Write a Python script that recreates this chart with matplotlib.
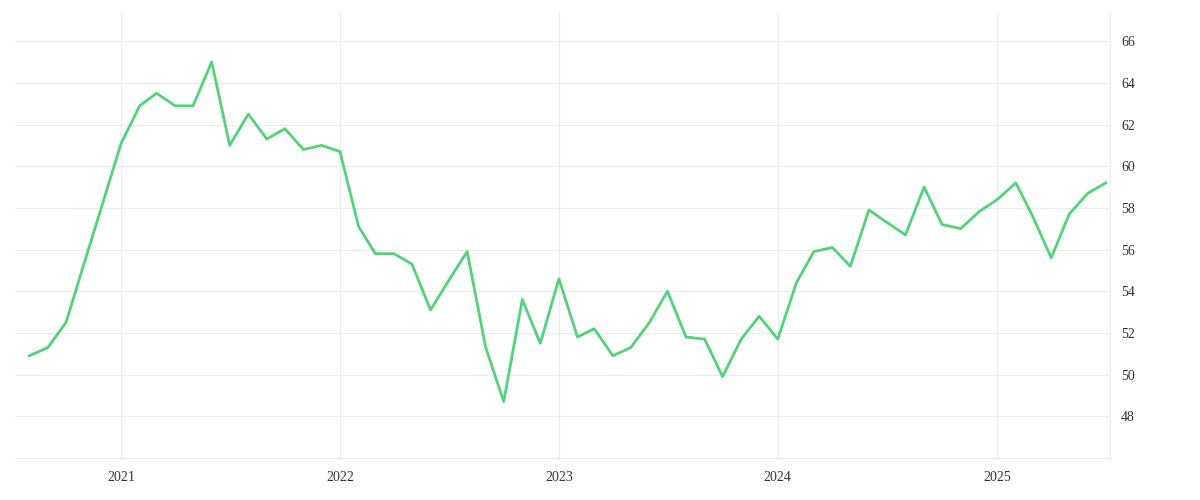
import matplotlib.pyplot as plt
import matplotlib.dates as mdates
import pandas as pd

plt.rcParams['font.family'] = ['Liberation Serif', 'DejaVu Serif']

# monthly values, Aug 2020 .. Jul 2025
months = pd.date_range('2020-08-01', '2025-07-01', freq='MS')
values = [50.9, 51.3, 52.5, 55.4, 58.2, 61.1, 62.9, 63.5, 62.9, 62.9, 65.0, 61.0,
          62.5, 61.3, 61.8, 60.8, 61.0, 60.7, 57.1, 55.8, 55.8, 55.3, 53.1, 54.5,
          55.9, 51.3, 48.7, 53.6, 51.5, 54.6, 51.8, 52.2, 50.9, 51.3, 52.5, 54.0,
          51.8, 51.7, 49.9, 51.7, 52.8, 51.7, 54.4, 55.9, 56.1, 55.2, 57.9, 57.3,
          56.7, 59.0, 57.2, 57.0, 57.8, 58.4, 59.2, 57.6, 55.6, 57.7, 58.7, 59.2]
y_ticks = [48, 50, 52, 54, 56, 58, 60, 62, 64, 66]

fig = plt.figure(figsize=(12, 5), dpi=100)
ax = fig.add_axes([0.0125, 0.08, 0.9125, 0.896])
ax.plot(months, values, color='#52d27a', lw=2)

ax.set_ylim(45.9, 67.4)
ax.set_xlim(pd.Timestamp('2020-07-08'), pd.Timestamp('2025-07-08'))
ax.set_yticks(y_ticks)
ax.set_yticks([46], minor=True)
ax.yaxis.tick_right()
ax.xaxis.set_major_locator(mdates.YearLocator())
ax.xaxis.set_major_formatter(mdates.DateFormatter('%Y'))
ax.grid(True, which='both', color='#ececec', lw=0.8)
ax.tick_params(which='both', length=0, labelsize=10, colors='#333333', pad=8)
for name, s in ax.spines.items():
    s.set_visible(name == 'right')
ax.spines['right'].set_color('#ececec')

fig.savefig('out.png')
